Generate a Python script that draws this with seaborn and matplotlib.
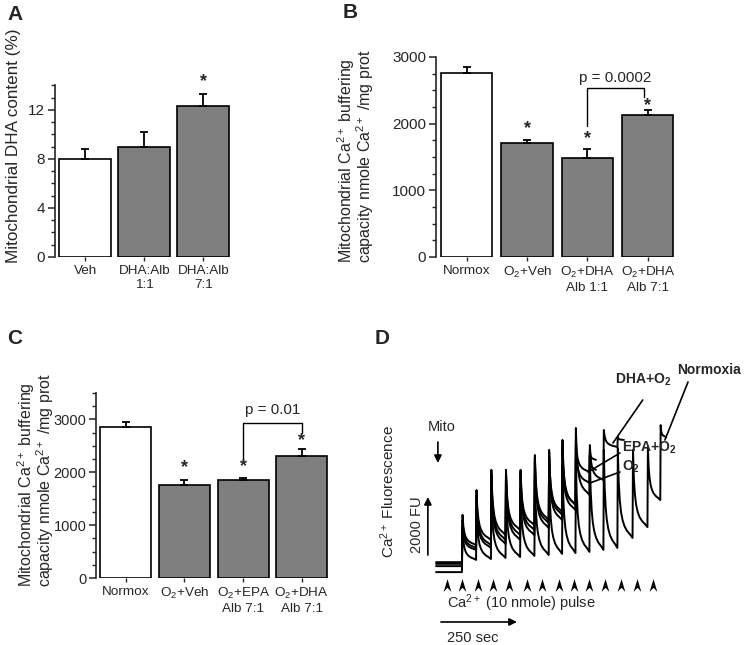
import numpy as np
import pandas as pd
import matplotlib
matplotlib.use('Agg')
import matplotlib.pyplot as plt
import seaborn as sns
from matplotlib.path import Path
from matplotlib.ticker import MultipleLocator

sns.set_style('ticks')
plt.rcParams['font.family'] = ['Liberation Sans', 'DejaVu Sans']
plt.rcParams['mathtext.fontset'] = 'custom'
plt.rcParams['mathtext.rm'] = 'Liberation Sans'
plt.rcParams['mathtext.it'] = 'Liberation Sans:italic'
plt.rcParams['mathtext.bf'] = 'Liberation Sans:bold'

GRIS = '#7f7f7f'

# Panel A
a_grupos = ['Veh', 'DHA:Alb\n1:1', 'DHA:Alb\n7:1']
a_medias = [8.0, 9.0, 12.3]
a_sem = [0.8, 1.2, 1.0]
a_colores = ['white', GRIS, GRIS]

# Panel B
b_grupos = ['Normox', 'O$_2$+Veh', 'O$_2$+DHA\nAlb 1:1', 'O$_2$+DHA\nAlb 7:1']
b_medias = [2760, 1710, 1490, 2125]
b_sem = [90, 40, 135, 75]
b_colores = ['white', GRIS, GRIS, GRIS]

# Panel C
c_grupos = ['Normox', 'O$_2$+Veh', 'O$_2$+EPA\nAlb 7:1', 'O$_2$+DHA\nAlb 7:1']
c_medias = [2860, 1756, 1845, 2312]
c_sem = [95, 107, 50, 133]
c_colores = ['white', GRIS, GRIS, GRIS]

# Panel D: trazas (seg, FU)
pulsos_t = [2, 48, 97, 145, 193, 240, 287, 331, 375, 421, 467, 513, 563, 612, 654]
flechas_t = [-49, 0, 53, 102, 155, 214, 263, 319, 368, 418, 470, 523, 576, 628]
inicio_t = -85

norm_base = -250
norm_picos = [1230, 1930, 2460, 2630, 2700, 3050, 3260, 3510, 3690, 3860, 4040, 4110, 4040, 4140, 4910]
norm_valles = [180, 210, 250, 280, 320, 350, 390, 420, 460, 530, 600, 950, 1330, 2280, 4490]

dha_base = -40
dha_picos = [1760, 2630, 3340, 3340, 3340, 3860, 4040, 4390, 4810, 4210, 4740, 4490]
dha_valles = [700, 880, 1050, 1230, 1400, 1580, 1860, 2110, 2460, 2980, 4140, 4390]

epa_base = 40
epa_picos = [1580, 2460, 3160, 3260, 3260, 3760, 3970, 4210, 4390, 4040]
epa_valles = [600, 700, 880, 1050, 1230, 1470, 1760, 2110, 3260, 3690]

o2_base = 100
o2_picos = [1400, 2280, 2980, 3160, 3160, 3620, 3760, 4040, 4210, 3860]
o2_valles = [530, 600, 740, 880, 1050, 1300, 1580, 1930, 2880, 3340]

# forma de la caida tras cada pulso
caida_f = np.array([1.0, 0.62, 0.42, 0.29, 0.2, 0.13, 0.08, 0.04, 0.0])
caida_t = np.array([0.0, 0.06, 0.13, 0.21, 0.31, 0.44, 0.6, 0.8, 0.97])


def panel_barras(ax, grupos, medias, sem, colores, ancho, ymax, mayor, menor, xmax, ytam=11):
    df = pd.DataFrame({'grupo': grupos, 'valor': medias})
    sns.barplot(data=df, x='grupo', y='valor', hue='grupo', palette=colores,
                width=ancho, edgecolor='black', linewidth=1.2, saturation=1,
                legend=False, errorbar=None, ax=ax)
    ax.errorbar(range(len(medias)), medias, yerr=[np.zeros(len(sem)), sem],
                fmt='none', ecolor='black', elinewidth=1.3, capsize=3, capthick=1.3)
    ax.set_xlim(-0.51, xmax)
    ax.set_ylim(0, ymax)
    ax.yaxis.set_major_locator(MultipleLocator(mayor))
    ax.yaxis.set_minor_locator(MultipleLocator(menor))
    sns.despine(ax=ax, bottom=True)
    ax.spines['left'].set_linewidth(1.2)
    ax.tick_params(axis='y', which='major', length=5, width=1.1, labelsize=ytam, pad=2)
    ax.tick_params(axis='y', which='minor', length=3, width=1.0)
    ax.tick_params(axis='x', length=3, width=1.0, labelsize=9.7, pad=3)
    ax.set_xlabel('')
    ax.set_ylabel('')


def estrella(ax, x, y):
    ax.text(x, y, '*', ha='center', va='center', fontsize=13, fontweight='bold', clip_on=False)


def corchete(ax, x1, y1, x2, y2, ytop, texto, ytexto):
    ax.plot([x1, x1, x2, x2], [y1, ytop, ytop, y2], color='black', lw=1.0, clip_on=False)
    ax.text((x1 + x2) / 2, ytexto, texto, ha='center', va='center', fontsize=11)


def ylab_ca(xc, ybase):
    fig.text(xc / 750, 1 - ybase / 645,
             'Mitochondrial Ca$^{2+}$ buffering\ncapacity nmole Ca$^{2+}$ /mg prot',
             rotation=90, ha='center', va='bottom', multialignment='left',
             fontsize=11.5, linespacing=0.85)


fig = plt.figure(figsize=(7.5, 6.45), dpi=100)

# A
axA = fig.add_axes([55 / 750, 1 - 257 / 645, 181 / 750, 171.5 / 645])
panel_barras(axA, a_grupos, a_medias, a_sem, a_colores, 0.88, 14, 4, 1, 2.55)
estrella(axA, 2, 14.3)
fig.text(13.5 / 750, 1 - 146 / 645, 'Mitochondrial DHA content (%)', rotation=90,
         ha='center', va='center', fontsize=12.3)

# B
axB = fig.add_axes([436 / 750, 1 - 257 / 645, 242 / 750, 200 / 645])
panel_barras(axB, b_grupos, b_medias, b_sem, b_colores, 0.85, 3000, 1000, 250, 3.5)
estrella(axB, 1, 1920)
estrella(axB, 2, 1770)
estrella(axB, 3, 2265)
corchete(axB, 2, 1965, 2.93, 2405, 2530, 'p = 0.0002', 2690)
ylab_ca(356, 263)

# C
axC = fig.add_axes([96 / 750, 1 - 578 / 645, 235 / 750, 185 / 645])
panel_barras(axC, c_grupos, c_medias, c_sem, c_colores, 0.87, 3500, 1000, 250, 3.5, ytam=10.5)
estrella(axC, 1, 2083)
estrella(axC, 2, 2113)
estrella(axC, 3, 2607)
corchete(axC, 2, 2208, 3, 2747, 2924, 'p = 0.01', 3177)
ylab_ca(36, 587)

# D
axD = fig.add_axes([0.5, 0, 0.5, 315 / 645])
axD.set_xlim(-286, 948)
axD.set_ylim(-2808, 8249)
axD.axis('off')


def traza(base, picos, valles):
    xs = [inicio_t, pulsos_t[0] - 2]
    ys = [base, base]
    for i, (pk, va) in enumerate(zip(picos, valles)):
        t0 = pulsos_t[i]
        if i + 1 < len(picos):
            gap = pulsos_t[i + 1] - t0
        else:
            gap = (pulsos_t[i] - pulsos_t[i - 1]) * 0.45
        xs.extend(t0 + caida_t * gap)
        ys.extend(va + (pk - va) * caida_f)
    return xs, ys


for base, picos, valles in [(norm_base, norm_picos, norm_valles),
                            (dha_base, dha_picos, dha_valles),
                            (epa_base, epa_picos, epa_valles),
                            (o2_base, o2_picos, o2_valles)]:
    xs, ys = traza(base, picos, valles)
    sns.lineplot(x=xs, y=ys, sort=False, color='black', lw=1.4, ax=axD, estimator=None)

punta = Path([(0, 1), (0.6, -1), (0, -0.35), (-0.6, -1), (0, 1)],
             [Path.MOVETO, Path.LINETO, Path.LINETO, Path.LINETO, Path.CLOSEPOLY])
axD.scatter(flechas_t, [-702] * len(flechas_t), marker=punta, s=85, c='black', lw=0)

flecha = dict(arrowstyle='-|>', color='black', lw=1.2, mutation_scale=11, shrinkA=0, shrinkB=0)
axD.annotate('', xy=(-79, 3580), xytext=(-79, 4317), arrowprops=flecha)
axD.text(-66, 4844, 'Mito', ha='center', va='center', fontsize=10.5)
axD.annotate('', xy=(-112, 2387), xytext=(-112, 351), arrowprops=flecha)
axD.text(-148, 1404, '2000 FU', rotation=90, ha='center', va='center', fontsize=10.5)
axD.text(-243, 2562, 'Ca$^{2+}$ Fluorescence', rotation=90, ha='center', va='center', fontsize=11)
axD.text(-49, -1334, 'Ca$^{2+}$ (10 nmole) pulse', ha='left', va='center', fontsize=10.5)
axD.annotate('', xy=(181, -2000), xytext=(-69, -2000), arrowprops=flecha)
axD.text(-49, -2562, '250 sec', ha='left', va='center', fontsize=10.5)

axD.text(503, 6494, 'DHA+O$_\\mathbf{2}$', ha='left', va='center', fontsize=10, fontweight='bold')
axD.text(707, 6845, 'Normoxia', ha='left', va='center', fontsize=10, fontweight='bold')
axD.text(526, 4107, 'EPA+O$_\\mathbf{2}$', ha='left', va='center', fontsize=10, fontweight='bold')
axD.text(526, 3440, 'O$_\\mathbf{2}$', ha='left', va='center', fontsize=10, fontweight='bold')
axD.plot([595, 497], [5792, 4282], color='black', lw=1.2)
axD.plot([744, 668], [6423, 4388], color='black', lw=1.2)
axD.plot([520, 415], [3931, 3264], color='black', lw=1.2)
axD.plot([520, 421], [3264, 2878], color='black', lw=1.2)

# letras de panel
for letra, x, y in [('A', 7, 15), ('B', 343, 13), ('C', 7, 338), ('D', 375, 338)]:
    fig.text(x / 750, 1 - y / 645, letra, ha='left', va='center', fontsize=15, fontweight='bold')

fig.savefig('out.png', dpi=100)
